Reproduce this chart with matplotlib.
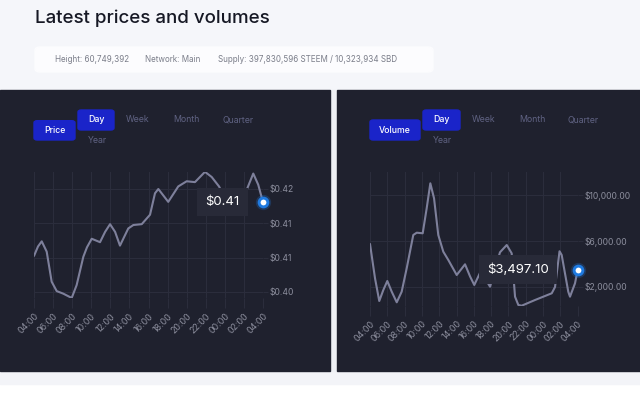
import matplotlib
matplotlib.use('Agg')
import matplotlib.pyplot as plt
from matplotlib.patches import Rectangle, FancyBboxPatch

plt.rcParams['font.family'] = ['Inter', 'DejaVu Sans']

# data (hours since 04:00)
hour_labels = ['04:00', '06:00', '08:00', '10:00', '12:00', '14:00', '16:00',
               '18:00', '20:00', '22:00', '00:00', '02:00', '04:00']

price_hours = [0, 0.42, 0.81, 1.33, 1.85, 2.38, 3.07, 3.95, 4.47, 5.17, 5.55,
               6.05, 6.92, 7.45, 7.97, 8.5, 9.01, 9.88, 10.41, 11.29, 12.16,
               12.68, 13.03, 14.07, 15.12, 16.0, 16.87, 17.92, 18.62, 19.39,
               20.6, 21.6, 22.29, 22.98, 23.5, 24]
price_values = [0.4082, 0.4093, 0.4099, 0.4087, 0.4052, 0.4041, 0.4038, 0.4033,
                0.4048, 0.4081, 0.4092, 0.4102, 0.4098, 0.4110, 0.4119, 0.4110,
                0.4094, 0.4114, 0.4118, 0.4119, 0.4130, 0.4155, 0.4160, 0.4145,
                0.4163, 0.4169, 0.4168, 0.4180, 0.4174, 0.4163, 0.4138, 0.4145,
                0.4159, 0.4178, 0.4165, 0.41445]
price_ticks = [0.404, 0.408, 0.412, 0.416]

volume_hours = [0, 0.58, 1.07, 1.54, 2.0, 2.51, 3.09, 3.66, 4.24, 5.0, 5.40,
                6.09, 6.55, 6.97, 7.40, 7.89, 8.47, 9.05, 10.02, 10.98, 11.56,
                12.05, 12.8, 13.87, 15.02, 15.80, 16.37, 16.76, 17.14, 17.53,
                19.07, 20.02, 21.0, 21.38, 21.9, 22.15, 22.91, 23.11, 23.69, 24]
volume_values = [5740, 2735, 749, 1711, 2499, 1563, 635, 1563, 3610, 6524, 6725,
                 6673, 8860, 11048, 9735, 6524, 5063, 4336, 3024, 3960, 2900,
                 2150, 3350, 2000, 5010, 5649, 4923, 1125, 399, 338, 836, 1125,
                 1423, 1974, 5100, 4774, 1563, 1125, 2298, 3497.1]
volume_ticks = [2000, 6000, 10000]

W, H = 640, 412
PANEL = '#1f212e'
GRID = '#2c2e3d'
LINE = '#7e809b'
LABEL = '#8c8e9d'
BLUE = '#1a24c9'


def fx(x):
    return x / W


def fy(y):
    return 1 - y / H


def rect(x0, y0, x1, y1, color):
    fig.patches.append(Rectangle((fx(x0), fy(y1)), fx(x1) - fx(x0), fy(y0) - fy(y1),
                                 transform=fig.transFigure, color=color, zorder=-2))


def button(x0, y0, x1, y1, text):
    fig.patches.append(FancyBboxPatch((fx(x0), fy(y1)), fx(x1) - fx(x0), fy(y0) - fy(y1),
                                      boxstyle='round,pad=0,rounding_size=0.005',
                                      transform=fig.transFigure, color=BLUE, zorder=-1))
    fig.text(fx((x0 + x1) / 2), fy((y0 + y1) / 2), text, color='white', fontsize=6.3,
             fontweight='medium', ha='center', va='center')


def menu(x, y, text):
    fig.text(fx(x), fy(y), text, color='#5f6282', fontsize=6.3, ha='center', va='center')


def chart(box, hours, values, ylim, ticks, fmt, tip, tip_off):
    x0, y0, x1, y1 = box
    ax = fig.add_axes([fx(x0), fy(y1), fx(x1) - fx(x0), fy(y0) - fy(y1)], zorder=2)
    ax.set_facecolor(PANEL)
    ax.plot(hours, values, color=LINE, lw=1.5, solid_joinstyle='round',
            solid_capstyle='round', zorder=2)
    ax.set_xlim(0, 24)
    ax.set_ylim(*ylim)
    ax.set_xticks(range(0, 25, 2))
    ax.set_xticklabels(hour_labels, rotation=45, ha='right', va='top',
                       rotation_mode='anchor')
    ax.set_yticks(ticks)
    ax.set_yticklabels([fmt(t) for t in ticks])
    ax.yaxis.tick_right()
    ax.grid(color=GRID, lw=0.7)
    ax.tick_params(axis='x', length=7, width=0.7, color=GRID, labelcolor=LABEL,
                   labelsize=6.4, pad=2.5)
    ax.tick_params(axis='y', length=3.5, width=0.7, color=GRID, labelcolor=LABEL,
                   labelsize=6.2, pad=1.2)
    for s in ax.spines.values():
        s.set_visible(False)
    # last point marker with glow
    ax.plot(hours[-1], values[-1], 'o', ms=11, color='#1f7ae0', alpha=0.25,
            mec='none', clip_on=False, zorder=5)
    ax.plot(hours[-1], values[-1], 'o', ms=6.3, mfc='white', mec='#1f7ae0',
            mew=2.1, clip_on=False, zorder=6)
    ax.annotate(tip, xy=(hours[-1], values[-1]), xytext=(tip_off, 0),
                textcoords='offset points', ha='right', va='center',
                color='white', fontsize=9.5, zorder=4,
                bbox=dict(boxstyle='square,pad=0.62', fc='#282a38', ec='none'))
    return ax


fig = plt.figure(figsize=(W / 100, H / 100), dpi=100, facecolor='white')

# page background and header
rect(0, 0, 640, 90, '#f5f6fa')
rect(0, 370.7, 640, 384, '#f3f4f8')
rect(330, 90, 336.5, 370.7, '#eef0f4')
rect(0, 90, 330, 370.7, PANEL)
rect(336.5, 90, 640, 370.7, PANEL)

fig.text(fx(35), fy(18), 'Latest prices and volumes', fontsize=13.5,
         fontweight='medium', color='#161824', ha='left', va='center')
fig.patches.append(FancyBboxPatch((fx(35), fy(72)), fx(433) - fx(35), fy(47) - fy(72),
                                  boxstyle='round,pad=0,rounding_size=0.008',
                                  transform=fig.transFigure, color='#fcfcfe', zorder=-1))
for x, t in [(55, 'Height: 60,749,392'), (145, 'Network: Main'),
             (218, 'Supply: 397,830,596 STEEM / 10,323,934 SBD')]:
    fig.text(fx(x), fy(60), t, fontsize=5.8, color='#7b7e8a', ha='left', va='center')

# buttons, price panel
button(34, 120.7, 75, 140, 'Price')
button(78, 110, 114, 130, 'Day')
menu(138, 120, 'Week')
menu(186, 120, 'Month')
menu(238, 120, 'Quarter')
menu(97, 140, 'Year')

# buttons, volume panel
button(370, 120, 420, 140, 'Volume')
button(423, 110, 460, 130, 'Day')
menu(484, 120, 'Week')
menu(532, 120, 'Month')
menu(583, 120, 'Quarter')
menu(442, 140, 'Year')

chart((34, 172, 263, 298.3), price_hours, price_values, (0.40326, 0.41798),
      price_ticks, lambda v: f'${v:.2f}', f'${price_values[-1]:.2f}', -17)
chart((370, 172, 577.7, 306), volume_hours, volume_values, (311, 12036),
      volume_ticks, lambda v: f'${v:,.2f}', f'${volume_values[-1]:,.2f}', -21)

fig.savefig('out.png', dpi=100, facecolor=fig.get_facecolor())
